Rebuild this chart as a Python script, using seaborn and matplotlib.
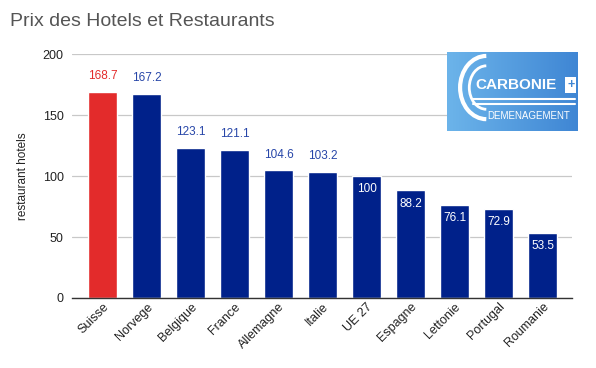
import matplotlib
matplotlib.use("Agg")
import matplotlib.pyplot as plt
import seaborn as sns
import numpy as np
import pandas as pd
from matplotlib.colors import LinearSegmentedColormap

countries = ["Suisse", "Norvege", "Belgique", "France", "Allemagne", "Italie",
             "UE 27", "Espagne", "Lettonie", "Portugal", "Roumanie"]
values = [168.7, 167.2, 123.1, 121.1, 104.6, 103.2, 100, 88.2, 76.1, 72.9, 53.5]
highlight = ["Suisse"]

RED = "#E32B2B"
NAVY = "#00218A"
LBLUE = "#2746A8"

sns.set_theme(style="white")
plt.rcParams['font.family'] = ['Liberation Sans', 'DejaVu Sans']

df = pd.DataFrame({"country": countries, "value": values})
df["grp"] = ["hi" if c in highlight else "lo" for c in countries]

fig = plt.figure(figsize=(5.96, 3.68), dpi=100)
ax = fig.add_axes([72/596, 1-298/368, 500/596, 244/368])

sns.barplot(data=df, x="country", y="value", hue="grp",
            palette={"hi": RED, "lo": NAVY}, dodge=False, legend=False,
            width=0.65, saturation=1, ax=ax)

ax.set_ylim(0, 200)
ax.set_xlim(-0.7, 10.67)
ax.set_yticks([0, 50, 100, 150, 200])
ax.yaxis.grid(True, color="#C8C8C8", linewidth=0.9)
ax.set_axisbelow(True)
for s in ["top", "right", "left"]:
    ax.spines[s].set_visible(False)
ax.spines["bottom"].set_color("#333333")
ax.spines["bottom"].set_linewidth(1.0)
ax.tick_params(axis="y", length=0, labelsize=9, colors="#222222", pad=6)
ax.tick_params(axis="x", length=0, labelsize=9, colors="#222222", pad=2)
plt.setp(ax.get_xticklabels(), rotation=45, ha="right", rotation_mode="anchor")
ax.set_xlabel("")
ax.set_ylabel("restaurant hotels", fontsize=8.5, color="#222222", labelpad=10)

for i, (c, v) in enumerate(zip(countries, values)):
    if v > 100:
        col = RED if c in highlight else LBLUE
        ax.text(i, v + 8, f"{v:g}", ha="center", va="bottom", fontsize=8.5, color=col)
    else:
        ax.text(i, v - 6, f"{v:g}", ha="center", va="top", fontsize=8.5, color="white")

fig.text(10/596, 1-22/368, "Prix des Hotels et Restaurants", fontsize=14,
         color="#555555", ha="left", va="center")

# logo approximation
lax = fig.add_axes([447/596, 1-131/368, 131/596, 79/368])
grad = np.linspace(0, 1, 256).reshape(1, -1)
cmap = LinearSegmentedColormap.from_list("lg", ["#6CB4EA", "#3F86D4"])
lax.imshow(grad, aspect="auto", cmap=cmap, extent=[0, 1, 0, 1])
lax.set_xlim(0, 1); lax.set_ylim(0, 1)
lax.axis("off")
lax.text(0.53, 0.58, "CARBONIE", fontsize=11, color="white", ha="center", va="center", fontweight="bold")
lax.text(0.945, 0.58, "+", fontsize=9, color="#3F86D4", ha="center", va="center", fontweight="bold",
         bbox=dict(boxstyle="square,pad=0.15", fc="white", ec="none"))
lax.text(0.62, 0.19, "DEMENAGEMENT", fontsize=7, color="white", ha="center", va="center")
lax.plot([0.2, 0.98], [0.40, 0.40], color="white", lw=1.5)
lax.plot([0.2, 0.98], [0.34, 0.34], color="white", lw=1.5)
lax.add_patch(matplotlib.patches.Arc((0.3, 0.55), 0.4, 0.8, theta1=90, theta2=270, color="white", lw=3))
lax.add_patch(matplotlib.patches.Arc((0.3, 0.55), 0.26, 0.55, theta1=90, theta2=270, color="white", lw=2))

fig.savefig("out.png", dpi=100)
